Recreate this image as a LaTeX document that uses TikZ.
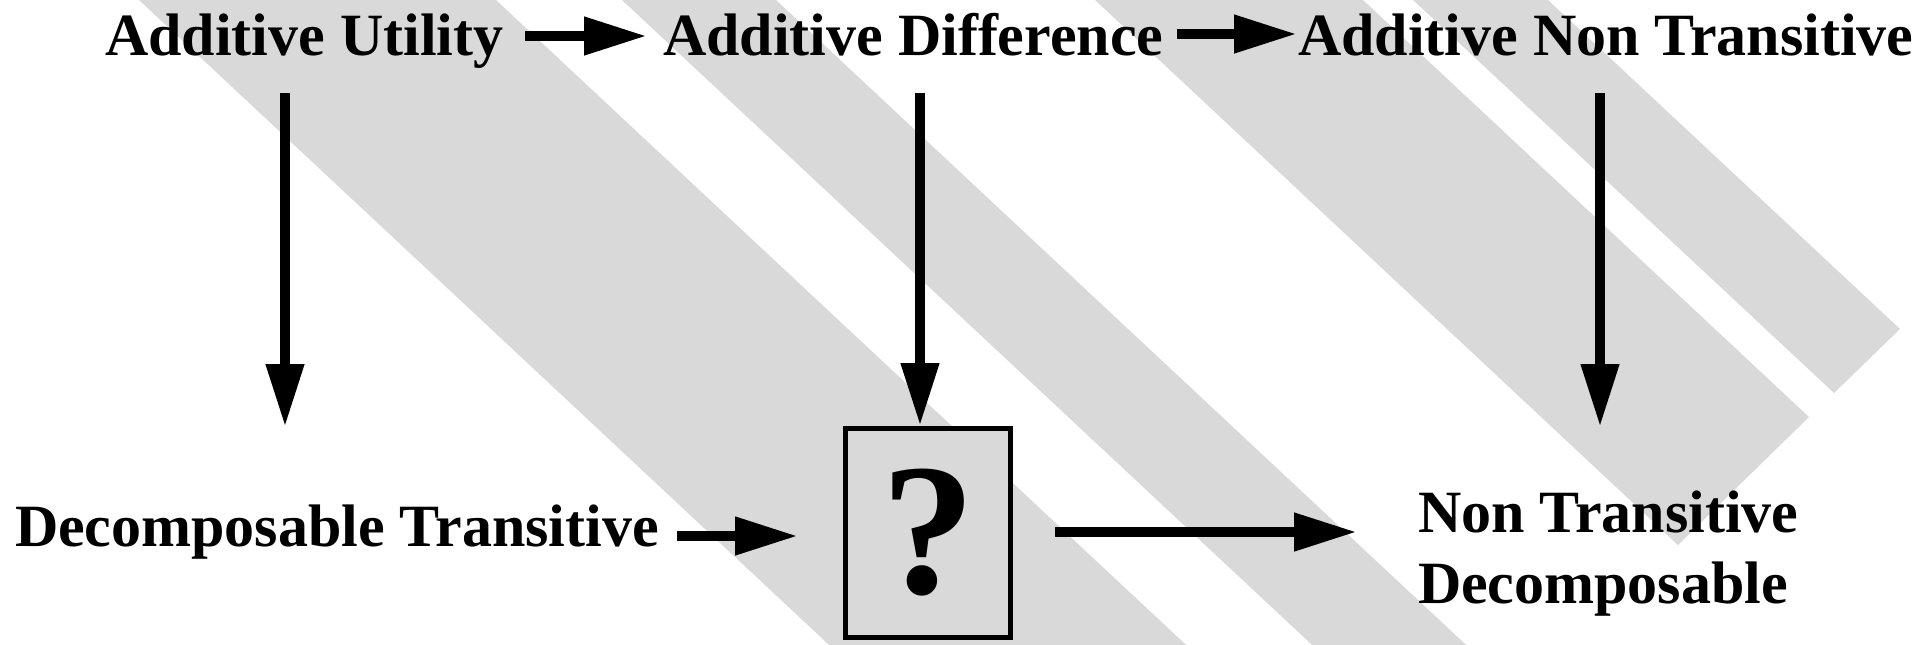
\documentclass[tikz,border=0pt]{standalone}
\usepackage{fontspec}
\setmainfont{Liberation Serif}
\usetikzlibrary{arrows.meta}
\definecolor{band}{RGB}{217,217,217}
\begin{document}
\begin{tikzpicture}[x=0.5pt,y=-0.5pt,
  lbl/.style={font=\fontsize{30}{35.5}\selectfont\bfseries, inner sep=0pt, outer sep=0pt, anchor=base west},
  arr/.style={line width=5.3pt, -{Triangle[length=31.5pt,width=18pt]}},
  qbox/.style={draw, line width=2.5pt, fill=band, minimum width=82.5pt, minimum height=104.5pt,
    inner sep=0pt, font=\fontsize{94}{100}\selectfont\bfseries}]
\useasboundingbox (0,0) rectangle (1932,644);

% diagonal background bands
\begin{scope}
  \clip (0,0) rectangle (1932,644);
  \fill[band] (85.5,-50) -- (442.5,-50) -- (1245,700) -- (888,700) -- cycle;
  \fill[band] (568.5,-50) -- (722.5,-50) -- (1525,700) -- (1371,700) -- cycle;
  \fill[band] (1041.5,-50) -- (1309.5,-50) -- (1809,417) -- (1678,545) -- cycle;
  \fill[band] (1359.5,-50) -- (1494.5,-50) -- (1900,329) -- (1834,393) -- cycle;
\end{scope}

% labels (the two-line label is anchored on its last baseline)
\node[lbl] (au)  at (105,55)  {Additive Utility};
\node[lbl] (ad)  at (663,55)  {Additive Difference};
\node[lbl] (ant) at (1298,55) {Additive Non Transitive};
\node[lbl] (dt)  at (15,546)  {Decomposable Transitive};
\node[lbl, align=left] (nt) at (1418,603) {Non Transitive\\Decomposable};
\node[qbox] (q) at (928,533) {?};

% top row
\draw[arr] ([shift={(420,-19)}]au.base west) -- ([shift={(-16,-19)}]ad.base west);
\draw[arr] ([shift={(514,-21)}]ad.base west) -- ([shift={(-1,-21)}]ant.base west);

% downward arrows
\draw[arr] ([shift={(180,38)}]au.base west) -- ([shift={(270,-119)}]dt.base west);
\draw[arr] ([shift={(257,38)}]ad.base west) -- ([shift={(-8,0)}]q.north);
\draw[arr] ([shift={(302,38)}]ant.base west) -- ([shift={(182,-176)}]nt.base west);

% bottom row
\draw[arr] ([shift={(662,-10)}]dt.base west) -- ([shift={(-45,3)}]q.west);
\draw[arr] ([shift={(42,-1)}]q.east) -- ([shift={(-61,-71)}]nt.base west);
\end{tikzpicture}
\end{document}
